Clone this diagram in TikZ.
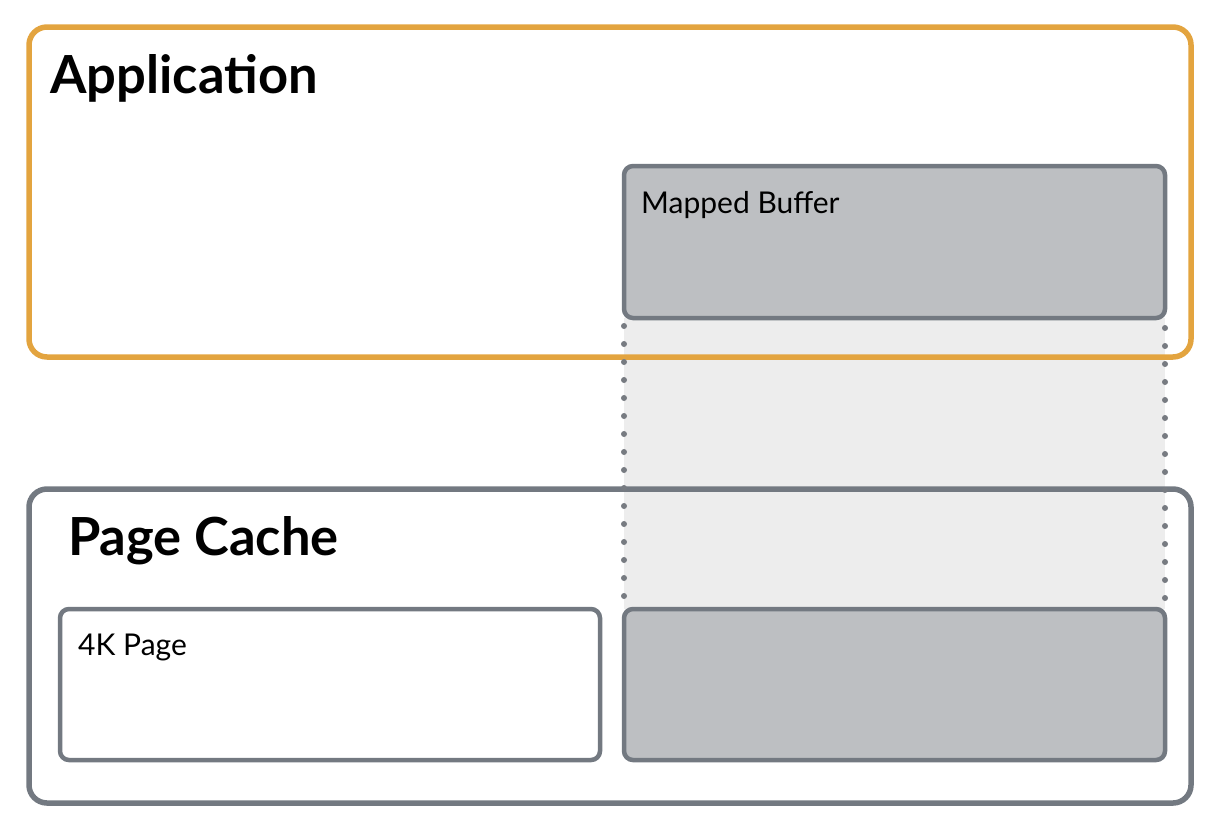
\documentclass[tikz,border=0pt]{standalone}
\usepackage{fontspec}
\setmainfont{Lato}
\usetikzlibrary{calc}
\definecolor{appor}{HTML}{E3A43F}
\definecolor{boxgr}{HTML}{737981}
\definecolor{bufgr}{HTML}{BDBFC2}
\definecolor{mapshade}{HTML}{EDEDED}
\definecolor{dotgr}{HTML}{777B81}
\tikzset{
  x=1pt, y=-1pt,
  outerbox/.style={line width=5.5pt, rounded corners=18pt},
  innerbox/.style={line width=4.5pt, draw=boxgr, rounded corners=9pt, outer sep=0pt, inner sep=0pt},
  title/.style={anchor=base west, inner sep=0pt, font=\fontsize{52.5}{62}\selectfont\bfseries},
  label/.style={anchor=base west, inner sep=0pt, font=\fontsize{30}{36}\selectfont},
  mapline/.style={draw=dotgr, line width=6pt, line cap=round, dash pattern=on 0pt off 18pt}
}
\begin{document}
\begin{tikzpicture}
\useasboundingbox (0,0) rectangle (1220,828);
% shaded mapping region
\fill[mapshade] (624,318) rectangle (1165,609);
% outer boxes
\draw[outerbox, draw=appor] (29,27) rectangle (1191,357);
\draw[outerbox, draw=boxgr] (29,489) rectangle (1191,803);
% inner boxes
\node[innerbox, fill=bufgr, minimum width=541pt, minimum height=152pt, anchor=north west] (buf) at (624,166) {};
\node[innerbox, fill=white, minimum width=540pt, minimum height=151pt, anchor=north west] (page) at (60,609) {};
\node[innerbox, fill=bufgr, minimum width=541pt, minimum height=151pt, anchor=north west] (cpage) at (624,609) {};
% dotted mapping lines
\draw[mapline] ($(buf.south west)+(0,8)$) -- (cpage.north west);
\draw[mapline] ($(buf.south east)+(0,10)$) -- (cpage.north east);
% texts
\node[title] (apptitle) at (50,93) {Application};
\node[title] (pctitle) at (68,555) {Page Cache};
\node[label] (buflabel) at (641,213) {Mapped Buffer};
\node[label] (pagelabel) at (78,655) {4K Page};
\end{tikzpicture}
\end{document}
